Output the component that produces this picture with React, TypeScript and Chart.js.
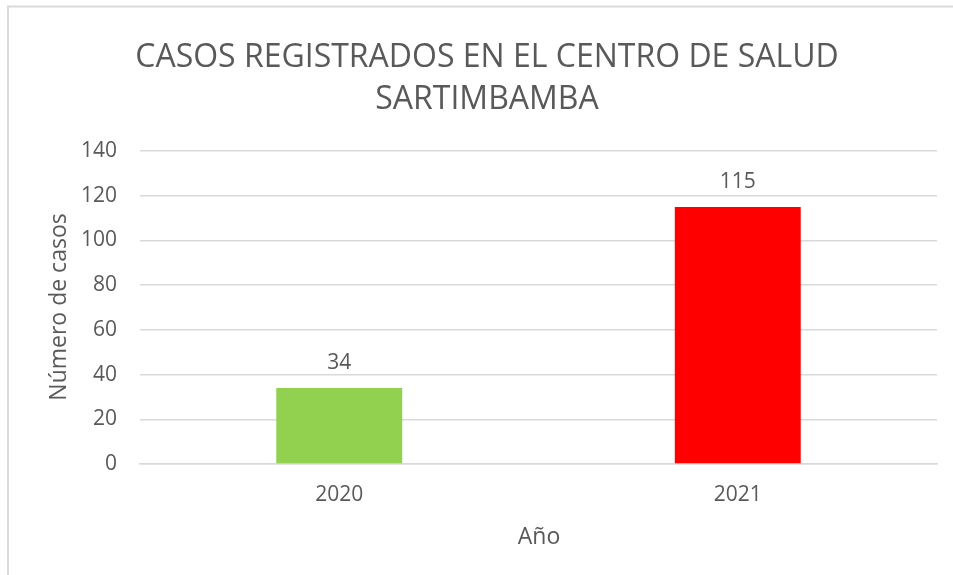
import React, { useEffect, useRef } from "react";
import { Chart, registerables } from "chart.js";

Chart.register(...registerables);

const categories = ["2020", "2021"];
const casos = [34, 115];
const barColors = ["#92D050", "#FF0000"];
const titleLines = ["CASOS REGISTRADOS EN EL CENTRO DE SALUD", "SARTIMBAMBA"];
const yTitle = "Número de casos";
const xTitle = "Año";
const yMin = 0;
const yMax = 140;
const yStep = 20;

const FONT = '"Open Sans", sans-serif';
const GRAY = "#595959";
const GRID = "#d9d9d9";

const overlay = {
  id: "overlay",
  afterDraw(chart: any) {
    const ctx = chart.ctx;
    ctx.save();
    // outer frame (chart object border)
    ctx.strokeStyle = GRID;
    ctx.lineWidth = 2;
    ctx.beginPath();
    ctx.moveTo(8, 575);
    ctx.lineTo(8, 6.5);
    ctx.lineTo(953, 6.5);
    ctx.stroke();

    ctx.fillStyle = GRAY;
    ctx.textAlign = "center";
    ctx.textBaseline = "middle";
    // title
    ctx.font = `32px ${FONT}`;
    ctx.fillText(titleLines[0], 487, 58);
    ctx.fillText(titleLines[1], 487, 100);

    // data labels
    ctx.font = `21px ${FONT}`;
    const meta = chart.getDatasetMeta(0);
    meta.data.forEach((bar: any, i: number) => {
      ctx.fillText(String(casos[i]), bar.x, bar.y - 25);
    });

    // axis titles
    ctx.font = `23px ${FONT}`;
    ctx.fillText(xTitle, 539, 537);
    ctx.save();
    ctx.translate(59, 307);
    ctx.rotate(-Math.PI / 2);
    ctx.fillText(yTitle, 0, 0);
    ctx.restore();
    ctx.restore();
  },
};

export default function App() {
  const ref = useRef<HTMLCanvasElement | null>(null);
  useEffect(() => {
    if (!ref.current) return;
    const chart = new Chart(ref.current, {
      type: "bar",
      data: {
        labels: categories,
        datasets: [
          {
            data: casos,
            backgroundColor: barColors,
            borderWidth: 0,
            categoryPercentage: 1,
            barPercentage: 0.316,
          },
        ],
      },
      options: {
        animation: false,
        responsive: false,
        devicePixelRatio: 1,
        layout: { padding: { left: 0, top: 151, right: 16, bottom: 0 } },
        plugins: {
          legend: { display: false },
          tooltip: { enabled: false },
          title: { display: false },
        },
        scales: {
          x: {
            grid: { display: false, drawTicks: false },
            border: { display: true, color: GRID, width: 1.5 },
            ticks: { color: GRAY, font: { family: FONT, size: 21 }, padding: 18 },
            afterFit(scale: any) {
              scale.height = 111;
            },
          },
          y: {
            min: yMin,
            max: yMax,
            grid: { color: GRID, lineWidth: 1.5, drawTicks: false },
            border: { display: false },
            ticks: {
              stepSize: yStep,
              color: GRAY,
              font: { family: FONT, size: 21 },
              padding: 23,
            },
            afterFit(scale: any) {
              scale.width = 140;
            },
          },
        },
      },
      plugins: [overlay],
    });
    return () => chart.destroy();
  }, []);
  return (
    <div style={{ position: "fixed", left: 0, top: 0, width: 953, height: 575, background: "#fff" }}>
      <canvas ref={ref} width={953} height={575} style={{ display: "block" }} />
    </div>
  );
}
